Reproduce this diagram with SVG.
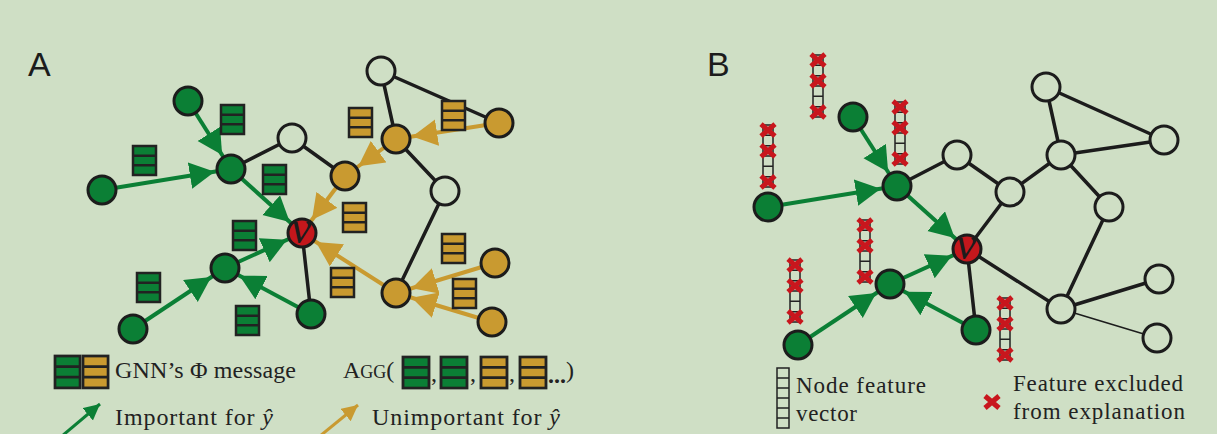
<svg xmlns="http://www.w3.org/2000/svg" width="1217" height="434" viewBox="0 0 1217 434">
<defs>
<style>
.e{stroke:#1c1c1c;stroke-width:3.5;fill:none}
.thin{stroke:#1c1c1c;stroke-width:1.5;fill:none}
.eg{stroke:#0b7f35;stroke-width:4;fill:none;marker-end:url(#ahg)}
.eo{stroke:#c99a30;stroke-width:4;fill:none;marker-end:url(#aho)}
.n{stroke:#1c1c1c;stroke-width:3}
.ng{fill:#0b7f35}.no{fill:#c99a30}.nw{fill:#cfdfc5}.nr{fill:#c4171c}
.mg{fill:#0b7f35;stroke:#222;stroke-width:2.5}
.mo{fill:#c99a30;stroke:#222;stroke-width:2.5}
.ms{stroke:#222;stroke-width:2.5;fill:none}
.fv{fill:none;stroke:#222;stroke-width:1.5}
.xm{stroke:#c8161d;stroke-width:5;fill:none}
.lbl{font-family:"Liberation Sans",Arial,sans-serif;font-size:34px;fill:#1c1c1c}
.t{font-family:"Liberation Serif","Times New Roman",serif;font-size:24px;fill:#222}
.t2{font-family:"Liberation Serif","Times New Roman",serif;font-size:23px;fill:#222}
.vv{font-family:"Liberation Serif","Times New Roman",serif;font-style:italic;font-size:46px;fill:#1c1c1c;text-anchor:middle}
</style>
<marker id="ahg" markerUnits="userSpaceOnUse" markerWidth="44" markerHeight="27" refX="41.5" refY="13.25" orient="auto"><path d="M0,0 L25,13.25 L0,26.5 z" fill="#0b7f35"/></marker>
<marker id="aho" markerUnits="userSpaceOnUse" markerWidth="44" markerHeight="27" refX="41.5" refY="13.25" orient="auto"><path d="M0,0 L25,13.25 L0,26.5 z" fill="#c99a30"/></marker>
<marker id="shg" markerUnits="userSpaceOnUse" markerWidth="17" markerHeight="17" refX="16" refY="8" orient="auto"><path d="M0,0 L16,8 L0,16 z" fill="#0b7f35"/></marker>
<marker id="sho" markerUnits="userSpaceOnUse" markerWidth="17" markerHeight="17" refX="16" refY="8" orient="auto"><path d="M0,0 L16,8 L0,16 z" fill="#c99a30"/></marker>
<g id="msgG"><rect class="mg" width="23" height="29"/><path class="ms" d="M0,9.7H23M0,19.3H23"/></g>
<g id="msgO"><rect class="mo" width="23" height="29"/><path class="ms" d="M0,9.7H23M0,19.3H23"/></g>
<g id="fvec"><rect class="fv" x="-5" y="0" width="10" height="62"/><path class="fv" d="M-5,10.3H5M-5,20.7H5M-5,31H5M-5,41.3H5M-5,51.7H5"/><path class="xm" d="M-7,-0.8L7,11.2M-7,11.2L7,-0.8M-7,19.8L7,31.8M-7,31.8L7,19.8M-7,50.8L7,62.8M-7,62.8L7,50.8"/></g>
</defs>
<rect width="1217" height="434" fill="#cfdfc5"/>

<g id="connectors">
<path class="e" d="M231,169L292,138M292,138L345,176M381,71L396,139M381,71L499,123M396,139L445,191M445,191L396,293M302,233L311,314"/>
<path class="eg" d="M188,101L231,169"/>
<path class="eg" d="M102,190L231,169"/>
<path class="eg" d="M231,169L302,233"/>
<path class="eg" d="M225,268L302,233"/>
<path class="eg" d="M133,329L225,268"/>
<path class="eg" d="M311,314L225,268"/>
<path class="eo" d="M499,123L396,139"/>
<path class="eo" d="M396,139L345,176"/>
<path class="eo" d="M345,176L302,233"/>
<path class="eo" d="M396,293L302,233"/>
<path class="eo" d="M495,263L396,293"/>
<path class="eo" d="M492,322L396,293"/>

<path class="e" d="M897,186L957,155M957,155L1010,192M1010,192L1061,155M1061,155L1046,87M1046,87L1164,140M1061,155L1164,140M1061,155L1109,207M1010,192L967,249M1109,207L1061,309M967,249L1061,309M967,249L976,330M1061,309L1159,279"/>
<path class="thin" d="M1061,309L1157,338"/>
<path class="eg" d="M853,117L897,186"/>
<path class="eg" d="M768,207L897,186"/>
<path class="eg" d="M897,186L967,249"/>
<path class="eg" d="M890,284L967,249"/>
<path class="eg" d="M798,345L890,284"/>
<path class="eg" d="M976,330L890,284"/>
</g>

<text class="lbl" x="28" y="76">A</text>
<text class="lbl" x="707" y="76">B</text>

<g id="nodesA">
<circle id="a-g1" class="n ng" cx="188" cy="101" r="14"/>
<circle id="a-g2" class="n ng" cx="231" cy="169" r="14"/>
<circle id="a-g3" class="n ng" cx="102" cy="190" r="14"/>
<circle id="a-w1" class="n nw" cx="292" cy="138" r="14"/>
<circle id="a-w2" class="n nw" cx="381" cy="71" r="14"/>
<circle id="a-o1" class="n no" cx="396" cy="139" r="14"/>
<circle id="a-o2" class="n no" cx="499" cy="123" r="14"/>
<circle id="a-o3" class="n no" cx="345" cy="176" r="14"/>
<circle id="a-w3" class="n nw" cx="445" cy="191" r="14"/>
<g id="a-v"><circle class="n nr" cx="302" cy="233" r="14"/><text class="vv" x="301" y="243">v</text></g>
<circle id="a-g4" class="n ng" cx="225" cy="268" r="14"/>
<circle id="a-g5" class="n ng" cx="133" cy="329" r="14"/>
<circle id="a-g6" class="n ng" cx="311" cy="314" r="14"/>
<circle id="a-o4" class="n no" cx="396" cy="293" r="14"/>
<circle id="a-o5" class="n no" cx="495" cy="263" r="14"/>
<circle id="a-o6" class="n no" cx="492" cy="322" r="14"/>
</g>

<g id="messagesA">
<use href="#msgG" x="221" y="105"/>
<use href="#msgG" x="133" y="146"/>
<use href="#msgG" x="263" y="165"/>
<use href="#msgG" x="233" y="221"/>
<use href="#msgG" x="137" y="273"/>
<use href="#msgG" x="236" y="306"/>
<use href="#msgO" x="349" y="108"/>
<use href="#msgO" x="442" y="101"/>
<use href="#msgO" x="343" y="203"/>
<use href="#msgO" x="331" y="268"/>
<use href="#msgO" x="442" y="234"/>
<use href="#msgO" x="453" y="279"/>
</g>

<g id="legendA">
<use href="#msgG" transform="translate(55,356) scale(1.09,1.1)"/>
<use href="#msgO" transform="translate(83,356) scale(1.09,1.1)"/>
<text class="t" x="115" y="378" textLength="181">GNN’s Φ message</text>
<path d="M62,436L100,404" stroke="#0b7f35" stroke-width="3" marker-end="url(#shg)"/>
<text class="t" x="115" y="425" textLength="158">Important for <tspan font-style="italic">ŷ</tspan></text>
<text class="t" x="343" y="378">A<tspan font-size="18">GG</tspan>(</text>
<use href="#msgG" transform="translate(403,357) scale(1.13,1.07)"/>
<text class="t" x="431" y="381">,</text>
<use href="#msgG" transform="translate(441,357) scale(1.13,1.07)"/>
<text class="t" x="470" y="381">,</text>
<use href="#msgO" transform="translate(481,357) scale(1.13,1.07)"/>
<text class="t" x="509" y="381">,</text>
<use href="#msgO" transform="translate(520,357) scale(1.13,1.07)"/>
<text class="t" x="548" y="383" font-weight="bold">...</text>
<text class="t" x="566" y="378">)</text>
<path d="M320,436L358,405" stroke="#c99a30" stroke-width="3" marker-end="url(#sho)"/>
<text class="t" x="372" y="425" textLength="188">Unimportant for <tspan font-style="italic">ŷ</tspan></text>
</g>

<g id="nodesB">
<circle id="b-g1" class="n ng" cx="853" cy="117" r="14"/>
<circle id="b-g2" class="n ng" cx="897" cy="186" r="14"/>
<circle id="b-g3" class="n ng" cx="768" cy="207" r="14"/>
<circle id="b-w1" class="n nw" cx="957" cy="155" r="14"/>
<circle id="b-w2" class="n nw" cx="1046" cy="87" r="14"/>
<circle id="b-w3" class="n nw" cx="1061" cy="155" r="14"/>
<circle id="b-w4" class="n nw" cx="1164" cy="140" r="14"/>
<circle id="b-w5" class="n nw" cx="1010" cy="192" r="14"/>
<circle id="b-w6" class="n nw" cx="1109" cy="207" r="14"/>
<g id="b-v"><circle class="n nr" cx="967" cy="249" r="14"/><text class="vv" x="966" y="259">v</text></g>
<circle id="b-g4" class="n ng" cx="890" cy="284" r="14"/>
<circle id="b-g5" class="n ng" cx="798" cy="345" r="14"/>
<circle id="b-g6" class="n ng" cx="976" cy="330" r="14"/>
<circle id="b-w7" class="n nw" cx="1061" cy="309" r="14"/>
<circle id="b-w8" class="n nw" cx="1159" cy="279" r="14"/>
<circle id="b-w9" class="n nw" cx="1157" cy="338" r="14"/>
</g>

<g id="featuresB">
<use href="#fvec" x="818" y="55"/>
<use href="#fvec" x="900" y="102"/>
<use href="#fvec" x="768" y="125"/>
<use href="#fvec" x="865" y="220"/>
<use href="#fvec" x="795" y="260"/>
<use href="#fvec" x="1005" y="298"/>
</g>

<g id="legendB">
<rect class="fv" x="777" y="368" width="12" height="60"/>
<path class="fv" d="M777,378H789M777,388H789M777,398H789M777,408H789M777,418H789"/>
<text class="t2" x="796" y="393" textLength="130">Node feature</text>
<text class="t2" x="796" y="421" textLength="61">vector</text>
<path class="xm" d="M985,396L999,408M985,408L999,396"/>
<text class="t2" x="1013" y="391" textLength="170">Feature excluded</text>
<text class="t2" x="1013" y="419" textLength="172">from explanation</text>
</g>
</svg>
